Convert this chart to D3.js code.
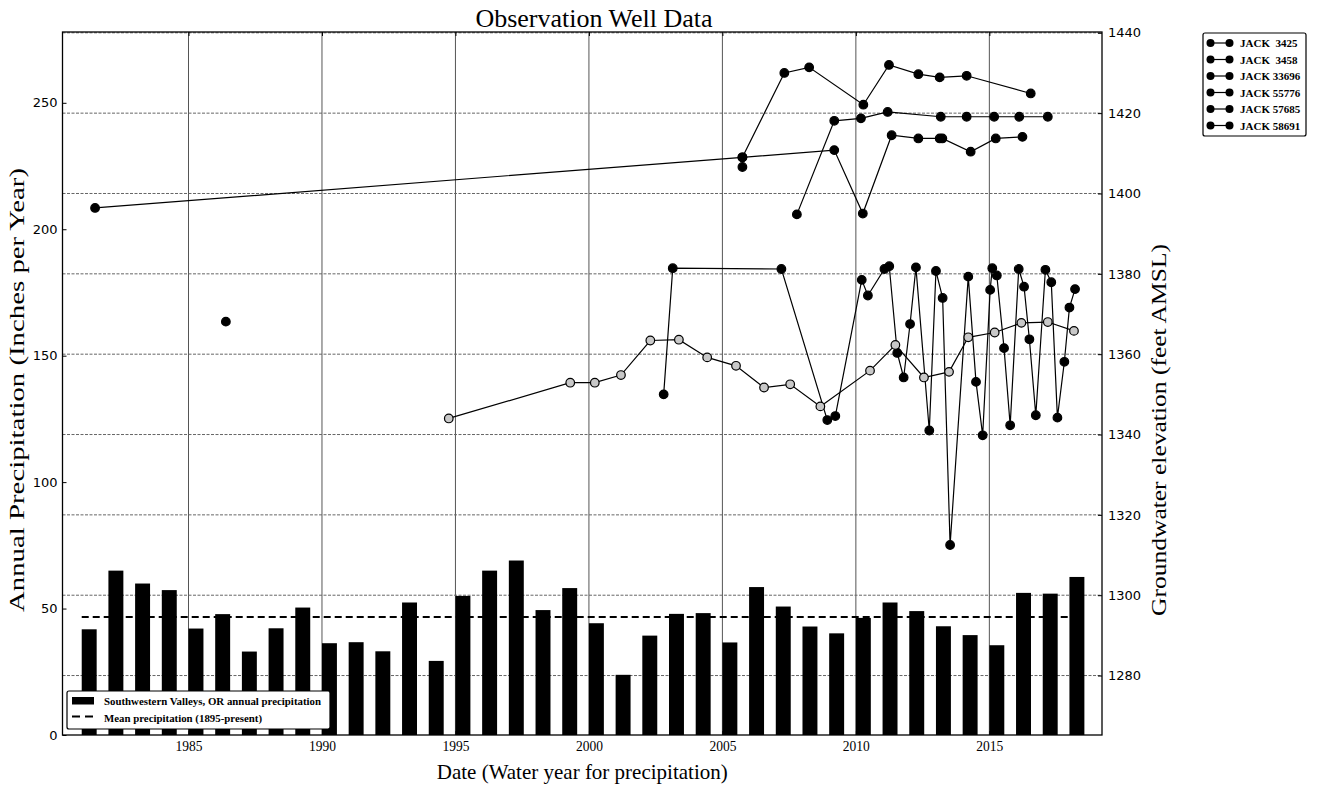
<!DOCTYPE html>
<html>
<head>
<meta charset="utf-8">
<script src="https://cdn.jsdelivr.net/npm/d3@7"></script>
<style>
body { margin: 0; background: #fff; }
svg { display: block; }
.serif { font-family: "Liberation Serif", "Times New Roman", serif; fill: #000; }
.ytick text { font-family: "DejaVu Sans", sans-serif; font-size: 13px; fill: #000; }
.xtick text { font-family: "Liberation Serif", serif; font-size: 15px; fill: #000; }
</style>
</head>
<body>
<div class="graphbox"></div>
<script>
// precipitation, one bar per water year
var years = [1981,1982,1983,1984,1985,1986,1987,1988,1989,1990,1991,1992,1993,1994,1995,1996,1997,1998,1999,
  2000,2001,2002,2003,2004,2005,2006,2007,2008,2009,2010,2011,2012,2013,2014,2015,2016,2017,2018]
var precip = [41.8,65.0,59.9,57.3,42.1,47.8,33.0,42.2,50.4,36.3,36.7,33.1,52.4,29.3,55.0,65.0,69.0,49.4,58.1,
  44.2,23.8,39.3,47.9,48.2,36.6,58.5,50.8,42.9,40.2,46.3,52.4,49.0,43.0,39.5,35.5,56.2,55.9,62.5]
var meanPrecip = 46.7

// well readings: [decimal year, groundwater elevation ft AMSL], null = no reading
var jack3425 = [[1981.5,1396.4],[2005.75,1409.0],[2009.19,1410.8],[2010.26,1395.0],[2011.34,1414.5],[2012.34,1413.7],
  [2013.14,1413.7],[2013.24,1413.7],[2014.30,1410.4],[2015.24,1413.7],[2016.24,1414.1]]
var jack3458 = [[2005.75,1409.0],[2007.32,1430.0],[2008.25,1431.4],[2010.28,1422.1],[2011.24,1432.0],[2012.34,1429.7],
  [2013.14,1428.9],[2014.15,1429.3],[2016.55,1424.9]]
var jack33696 = [[2007.79,1394.8],[2009.19,1418.1],[2010.19,1418.7],[2011.19,1420.3],[2013.18,1419.1],[2014.15,1419.1],
  [2015.18,1419.1],[2016.12,1419.1],[2017.19,1419.1]]
var jack55776 = [[2002.8,1350.0],[2003.14,1381.4],[2007.21,1381.2],[2008.93,1343.6],[2009.23,1344.6],[2010.22,1378.5],
  [2010.45,1374.6],[2011.07,1381.2],[2011.25,1381.9],[2011.55,1360.3],[2011.79,1354.2],[2012.03,1367.5],[2012.25,1381.6],
  [2012.75,1341.0],[2013.0,1380.7],[2013.25,1374.0],[2013.53,1312.5],[2014.21,1379.3],[2014.5,1353.1],[2014.75,1339.8],
  [2015.03,1376.0],[2015.11,1381.4],[2015.28,1379.6],[2015.55,1361.5],[2015.78,1342.3],[2016.1,1381.2],[2016.3,1376.8],
  [2016.5,1363.7],[2016.74,1344.8],[2017.1,1381.0],[2017.32,1377.9],[2017.55,1344.2],[2017.81,1358.1],[2018.0,1371.6],
  [2018.21,1376.2]]
var jack57685 = [[1994.75,1344.0],[1999.3,1352.9],[2000.22,1352.9],[2001.2,1354.8],[2002.3,1363.4],[2003.37,1363.6],
  [2004.43,1359.2],[2005.51,1357.1],[2006.56,1351.7],[2007.54,1352.5],[2008.67,1347.0],[2010.53,1355.9],[2011.48,1362.3],
  [2012.55,1354.2],[2013.49,1355.6],[2014.21,1364.2],[2015.2,1365.4],[2016.2,1367.8],[2017.19,1368.0],[2018.17,1365.8]]
var jack58691 = [[1986.4,1368.1],[1995.0,null],[2005.75,1406.6]]

var wellNames = ["JACK  3425","JACK  3458","JACK 33696","JACK 55776","JACK 57685","JACK 58691"]
var wellData = [jack3425, jack3458, jack33696, jack55776, jack57685, jack58691]
var wellFill = ["#000","#000","#000","#000","#c8c8c8","#000"]

var xTicks = [1985,1990,1995,2000,2005,2010,2015]
var precipTicks = [0,50,100,150,200,250]
var wellTicks = [1280,1300,1320,1340,1360,1380,1400,1420,1440]

var svgWidth = 1317;
var svgHeight = 789;
var plotLeft = 62.5, plotRight = 1102, plotTop = 32, plotBottom = 735;
var barYears = 0.56;

var x = d3.scaleLinear().domain([1980.28, 2019.22]).range([plotLeft, plotRight]);
var yPrecip = d3.scaleLinear().domain([0, 278]).range([plotBottom, plotTop]);
var yWell = d3.scaleLinear().domain([1265.2, 1440.2]).range([plotBottom, plotTop]);

var mysvg = d3.select(".graphbox")
  .append("svg")
  .attr("width", svgWidth)
  .attr("height", svgHeight)
 ;

// grid
mysvg.selectAll(".vgrid")
  .data(xTicks)
  .enter()
  .append("line")
  .attr("x1", function(d) { return x(d); })
  .attr("x2", function(d) { return x(d); })
  .attr("y1", plotTop)
  .attr("y2", plotBottom)
  .attr("stroke", "#555")
  .attr("stroke-width", 1)
 ;

mysvg.selectAll(".hgrid")
  .data(wellTicks)
  .enter()
  .append("line")
  .attr("x1", plotLeft)
  .attr("x2", plotRight)
  .attr("y1", function(d) { return yWell(d); })
  .attr("y2", function(d) { return yWell(d); })
  .attr("stroke", "#666")
  .attr("stroke-width", 1)
  .attr("stroke-dasharray", "3,1.5")
 ;

// precipitation bars
mysvg.selectAll(".bar")
  .data(precip)
  .enter()
  .append("rect")
  .attr("x", function(d, i) { return x(years[i]); })
  .attr("width", function(d, i) { return x(years[i] + barYears) - x(years[i]); })
  .attr("y", function(d) { return yPrecip(d); })
  .attr("height", function(d) { return plotBottom - yPrecip(d); })
  .attr("fill", "#000")
 ;

mysvg.append("line")
  .attr("x1", x(years[0]))
  .attr("x2", x(years[years.length - 1]))
  .attr("y1", yPrecip(meanPrecip))
  .attr("y2", yPrecip(meanPrecip))
  .attr("stroke", "#000")
  .attr("stroke-width", 2)
  .attr("stroke-dasharray", "7,4")
 ;

// wells
var wellLine = d3.line()
  .defined(function(d) { return d[1] != null; })
  .x(function(d) { return x(d[0]); })
  .y(function(d) { return yWell(d[1]); });

wellData.forEach(function(series, k) {
  mysvg.append("path")
    .attr("d", wellLine(series))
    .attr("fill", "none")
    .attr("stroke", "#000")
    .attr("stroke-width", 1.2)
  ;
  mysvg.selectAll(".pt" + k)
    .data(series.filter(function(d) { return d[1] != null; }))
    .enter()
    .append("circle")
    .attr("cx", function(d) { return x(d[0]); })
    .attr("cy", function(d) { return yWell(d[1]); })
    .attr("r", 4.3)
    .attr("fill", wellFill[k])
    .attr("stroke", "#000")
    .attr("stroke-width", 1.2)
  ;
});

// frame
mysvg.append("rect")
  .attr("x", plotLeft)
  .attr("y", plotTop)
  .attr("width", plotRight - plotLeft)
  .attr("height", plotBottom - plotTop)
  .attr("fill", "none")
  .attr("stroke", "#000")
  .attr("stroke-width", 1.3)
 ;

// axes
var leftAx = mysvg.append("g")
  .attr("class", "ytick")
  .attr("transform", "translate(" + plotLeft + ",0)")
  .call(d3.axisLeft(yPrecip).tickValues(precipTicks).tickSize(-4).tickPadding(5));
var rightAx = mysvg.append("g")
  .attr("class", "ytick")
  .attr("transform", "translate(" + plotRight + ",0)")
  .call(d3.axisRight(yWell).tickValues(wellTicks).tickFormat(d3.format("d")).tickSize(-4).tickPadding(6));
var bottomAx = mysvg.append("g")
  .attr("class", "xtick")
  .attr("transform", "translate(0," + plotBottom + ")")
  .call(d3.axisBottom(x).tickValues(xTicks).tickFormat(d3.format("d")).tickSize(-4).tickPadding(5));
var topAx = mysvg.append("g")
  .attr("transform", "translate(0," + plotTop + ")")
  .call(d3.axisTop(x).tickValues(xTicks).tickFormat("").tickSize(-4));

mysvg.selectAll(".domain").remove();
mysvg.selectAll(".tick line").attr("stroke", "#000");
bottomAx.selectAll("text").attr("textLength", 27).attr("lengthAdjust", "spacingAndGlyphs");

// titles
mysvg.append("text")
  .attr("class", "serif")
  .attr("x", 594)
  .attr("y", 27)
  .attr("text-anchor", "middle")
  .style("font-size", "26px")
  .text("Observation Well Data")
 ;

mysvg.append("text")
  .attr("class", "serif")
  .attr("x", (plotLeft + plotRight) / 2)
  .attr("y", 779)
  .attr("text-anchor", "middle")
  .style("font-size", "21px")
  .text("Date (Water year for precipitation)")
 ;

mysvg.append("text")
  .attr("class", "serif")
  .attr("transform", "translate(24,390) rotate(-90)")
  .attr("text-anchor", "middle")
  .attr("textLength", 444)
  .attr("lengthAdjust", "spacingAndGlyphs")
  .style("font-size", "20px")
  .text("Annual Precipitation (Inches per Year)")
 ;

mysvg.append("text")
  .attr("class", "serif")
  .attr("transform", "translate(1166,430) rotate(-90)")
  .attr("text-anchor", "middle")
  .attr("textLength", 372)
  .attr("lengthAdjust", "spacingAndGlyphs")
  .style("font-size", "20px")
  .text("Groundwater elevation (feet AMSL)")
 ;

// well legend, top right
var wl = mysvg.append("g");
wl.append("rect")
  .attr("x", 1203).attr("y", 33).attr("width", 103).attr("height", 103)
  .attr("fill", "#fff").attr("stroke", "#000").attr("stroke-width", 1.2).attr("rx", 2);
var wlRows = wl.selectAll(".wlrow")
  .data(wellNames)
  .enter()
  .append("g")
  .attr("transform", function(d, i) { return "translate(0," + (43 + i * 16.5) + ")"; });
wlRows.append("line").attr("x1", 1210).attr("x2", 1230).attr("stroke", "#000").attr("stroke-width", 1.2);
wlRows.append("circle").attr("cx", 1210.5).attr("r", 4).attr("fill", "#000");
wlRows.append("circle").attr("cx", 1229.5).attr("r", 4).attr("fill", "#000");
wlRows.append("text")
  .attr("class", "serif")
  .attr("x", 1240)
  .attr("y", 4)
  .attr("xml:space", "preserve")
  .style("white-space", "pre")
  .style("font-size", "11px")
  .style("font-weight", "bold")
  .text(function(d) { return d; });

// precipitation legend, bottom left
var pl = mysvg.append("g");
pl.append("rect")
  .attr("x", 67).attr("y", 691).attr("width", 263).attr("height", 38)
  .attr("fill", "#fff").attr("stroke", "#000").attr("stroke-width", 1.2).attr("rx", 2);
pl.append("rect").attr("x", 72).attr("y", 697).attr("width", 22).attr("height", 7.5).attr("fill", "#000");
pl.append("line")
  .attr("x1", 72).attr("x2", 94).attr("y1", 716.5).attr("y2", 716.5)
  .attr("stroke", "#000").attr("stroke-width", 2).attr("stroke-dasharray", "8,5");
pl.append("text")
  .attr("class", "serif").attr("x", 104).attr("y", 705)
  .attr("textLength", 217).attr("lengthAdjust", "spacingAndGlyphs")
  .style("font-size", "10.5px").style("font-weight", "bold")
  .text("Southwestern Valleys, OR annual precipitation");
pl.append("text")
  .attr("class", "serif").attr("x", 104).attr("y", 722)
  .attr("textLength", 158).attr("lengthAdjust", "spacingAndGlyphs")
  .style("font-size", "10.5px").style("font-weight", "bold")
  .text("Mean precipitation (1895-present)");
</script>
</body>
</html>
